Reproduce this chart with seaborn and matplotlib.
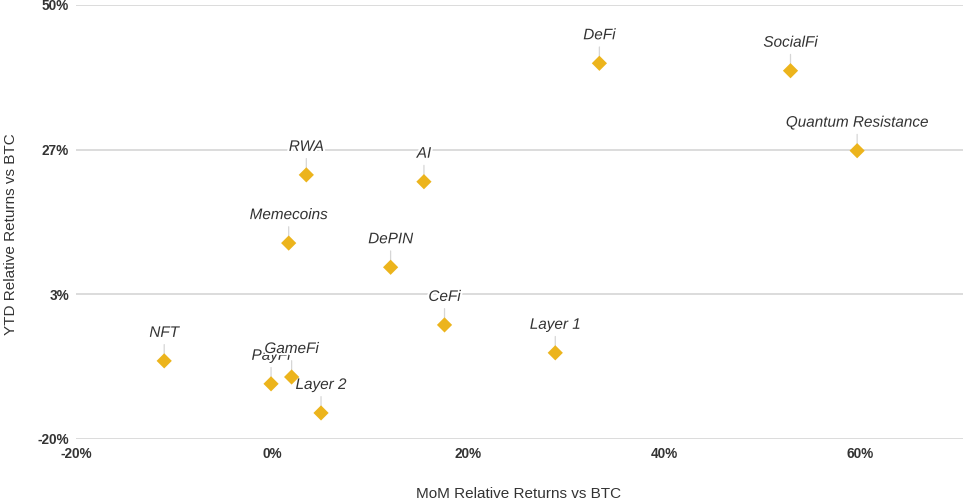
import matplotlib
matplotlib.use("Agg")
import matplotlib.pyplot as plt
import matplotlib.patheffects as pe
from matplotlib.ticker import FixedLocator, FixedFormatter
import seaborn as sns
import pandas as pd

sectors = ["NFT", "PayFi", "GameFi", "Layer 2", "Memecoins", "RWA", "AI", "DePIN",
           "CeFi", "Layer 1", "DeFi", "SocialFi", "Quantum Resistance"]
mom_returns = [-11.0, -0.1, 2.0, 5.0, 1.7, 3.5, 15.5, 12.1, 17.6, 28.9, 33.4, 52.9, 59.7]
ytd_returns = [-7.4, -11.1, -10.0, -15.8, 11.6, 22.6, 21.5, 7.7, -1.6, -6.1, 40.6, 39.4, 26.5]

x_ticks = [-20, 0, 20, 40, 60]
x_tick_labels = ["-20%", "0%", "20%", "40%", "60%"]
y_ticks = [-20, 3.333, 26.667, 50]
y_tick_labels = ["-20%", "3%", "27%", "50%"]

df = pd.DataFrame({"sector": sectors, "mom": mom_returns, "ytd": ytd_returns})

sns.set_style("white")
plt.rcParams["font.family"] = ["Liberation Sans", "DejaVu Sans"]

fig = plt.figure(figsize=(9.63, 5.0), dpi=100)
ax = fig.add_axes([76 / 963, 1 - 439 / 500, 1 - 76 / 963, 434 / 500])

gold = "#ECB41C"
text_col = "#333333"

ax.set_xlim(-20, 70.5)
ax.set_ylim(-20, 50)
ax.yaxis.set_major_locator(FixedLocator(y_ticks))
ax.yaxis.set_major_formatter(FixedFormatter(y_tick_labels))
ax.xaxis.set_major_locator(FixedLocator(x_ticks))
ax.xaxis.set_major_formatter(FixedFormatter(x_tick_labels))
ax.grid(axis="y", color="#d9d9d9", lw=1.3)
ax.grid(axis="x", visible=False)
ax.set_axisbelow(True)
for s in ax.spines.values():
    s.set_visible(False)
ax.tick_params(axis="both", length=0, labelsize=9.8, labelcolor=text_col)
ax.tick_params(axis="y", pad=5)
ax.tick_params(axis="x", pad=6)
for lab in ax.get_xticklabels() + ax.get_yticklabels():
    lab.set_fontweight("bold")

for _, r in df.iterrows():
    ax.annotate(r["sector"], xy=(r["mom"], r["ytd"]), xytext=(0, 28),
                textcoords="offset pixels", ha="center", va="center",
                fontsize=11, style="italic", color=text_col,
                path_effects=[pe.withStroke(linewidth=3, foreground="white")],
                arrowprops=dict(arrowstyle="-", color="#d6d6d6", lw=0.9,
                                shrinkA=1, shrinkB=3),
                zorder=3)

sns.scatterplot(data=df, x="mom", y="ytd", marker="D", s=60, color=gold,
                edgecolor="none", linewidth=0, ax=ax, zorder=4)

ax.set_xlabel("")
ax.set_ylabel("")
fig.text(519 / 963, 1 - 494 / 500, "MoM Relative Returns vs BTC", ha="center",
         va="center", fontsize=11, color=text_col)
fig.text(11 / 963, 1 - 234 / 500, "YTD Relative Returns vs BTC", ha="center",
         va="center", rotation=90, fontsize=11, color=text_col)

fig.savefig("out.png", dpi=100)
